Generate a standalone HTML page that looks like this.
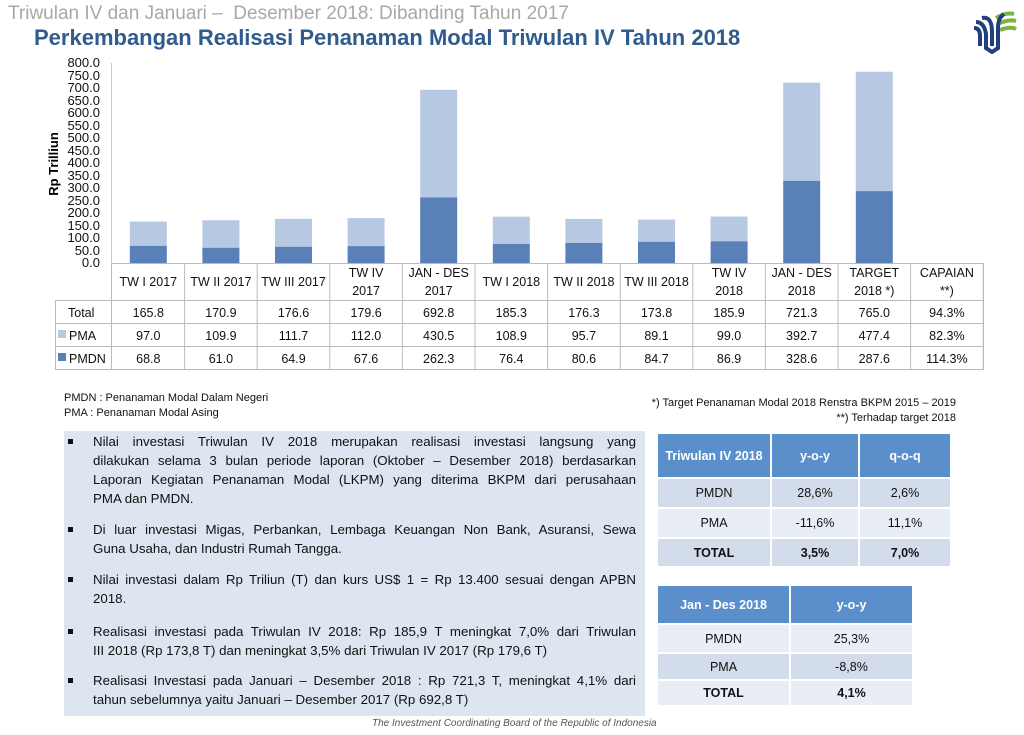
<!DOCTYPE html>
<html><head><meta charset="utf-8"><style>
body{margin:0;width:1024px;height:735px;background:#fff;position:relative;overflow:hidden;font-family:"Liberation Sans",sans-serif;}
.abs{position:absolute}
.box{left:64px;top:431px;width:581px;height:285px;background:#dde5f0}
.ln{position:absolute;left:93px;width:543px;font-size:13.3px;color:#111;white-space:nowrap}
.j{text-align:justify;text-align-last:justify;white-space:normal;height:19px;overflow:hidden}
.b{position:absolute;left:68px;width:5px;height:5px;background:#111}
table.t{position:absolute;border-collapse:collapse;font-size:12.5px;color:#111}
table.t td{text-align:center;border:2px solid #fff;padding:0}
table.t .h td{background:#5b8fcb;color:#fff;font-weight:bold}
</style></head><body>
<div class="abs" style="left:8px;top:3px;font-size:19px;color:#a8a8a8">Triwulan IV dan Januari –&nbsp; Desember 2018: Dibanding Tahun 2017</div>
<div class="abs" style="left:34px;top:25px;font-size:22px;font-weight:bold;color:#2f5b8d">Perkembangan Realisasi Penanaman Modal Triwulan IV Tahun 2018</div>
<svg class="abs" style="left:970px;top:8px" width="48" height="46" viewBox="0 0 48 46">
<path d="M26 10 Q36 4 44 6 M28 16 Q38 11 46 13 M30 22 Q40 18 46 21" stroke="#7cb342" stroke-width="4" fill="none"/>
<path d="M6 14 Q14 14 16 26 L16 40 L22 44 L28 40 L28 20 Q28 10 34 6 M12 10 Q22 8 22 24 L22 38 M4 20 Q10 20 10 28 L10 38" stroke="#1f3f7f" stroke-width="4" fill="none"/>
</svg>
<svg class="abs" style="left:0;top:0" width="1024" height="380" font-family="Liberation Sans, sans-serif">
<line x1="111.5" y1="63" x2="111.5" y2="263" stroke="#ccc"/>
<g id="bars"></g>
<g stroke="#bbb" fill="none">
<rect x="55.5" y="263.5" width="928" height="106"/>
<line x1="55" y1="300.5" x2="984" y2="300.5"/><line x1="55" y1="323.5" x2="984" y2="323.5"/><line x1="55" y1="346.5" x2="984" y2="346.5"/>
<path id="vl" d=""/>
</g>
<rect x="55" y="262" width="56" height="38" fill="#fff"/>
<line x1="55.5" y1="300" x2="55.5" y2="370" stroke="#bbb"/>
<line x1="111.5" y1="263" x2="111.5" y2="370" stroke="#bbb"/>
<g font-size="13" fill="#111" text-anchor="end">
<text x="100" y="67">800.0</text><text x="100" y="80">750.0</text><text x="100" y="92">700.0</text><text x="100" y="105">650.0</text><text x="100" y="117">600.0</text><text x="100" y="130">550.0</text><text x="100" y="142">500.0</text><text x="100" y="155">450.0</text><text x="100" y="167">400.0</text><text x="100" y="180">350.0</text><text x="100" y="192">300.0</text><text x="100" y="205">250.0</text><text x="100" y="217">200.0</text><text x="100" y="230">150.0</text><text x="100" y="242">100.0</text><text x="100" y="255">50.0</text><text x="100" y="267">0.0</text>
</g>
<text transform="translate(58,164) rotate(-90)" font-size="13" font-weight="bold" text-anchor="middle">Rp Trilliun</text>
<g font-size="12.5" fill="#111" text-anchor="middle" id="tx"></g>
<g font-size="12.5" fill="#111">
<text x="68" y="317">Total</text>
<rect x="58" y="330" width="8" height="8" fill="#b7c9e2"/><text x="69" y="340">PMA</text>
<rect x="58" y="353" width="8" height="8" fill="#5a80b8"/><text x="69" y="363">PMDN</text>
</g>
</svg>
<div class="abs" style="left:64px;top:391px;font-size:11px;color:#111;line-height:15px">PMDN : Penanaman Modal Dalam Negeri<br>PMA : Penanaman Modal Asing</div>
<div class="abs" style="right:68px;top:396px;font-size:11px;color:#111;line-height:15px;text-align:right">*) Target Penanaman Modal 2018 Renstra BKPM 2015 – 2019<br>**) Terhadap target 2018</div>
<div class="abs box"></div>
<div class="b" style="top:439px"></div>
<div class="ln j" style="top:434px">Nilai investasi Triwulan IV 2018 merupakan realisasi investasi langsung yang</div>
<div class="ln j" style="top:453px">dilakukan selama 3 bulan periode laporan (Oktober – Desember 2018) berdasarkan</div>
<div class="ln j" style="top:472px">Laporan Kegiatan Penanaman Modal (LKPM) yang diterima BKPM dari perusahaan</div>
<div class="ln" style="top:491px">PMA dan PMDN.</div>
<div class="b" style="top:527px"></div>
<div class="ln j" style="top:522px">Di luar investasi Migas, Perbankan, Lembaga Keuangan Non Bank, Asuransi, Sewa</div>
<div class="ln" style="top:541px">Guna Usaha, dan Industri Rumah Tangga.</div>
<div class="b" style="top:577px"></div>
<div class="ln j" style="top:572px">Nilai investasi dalam Rp Triliun (T) dan kurs US$ 1 = Rp 13.400 sesuai dengan APBN</div>
<div class="ln" style="top:591px">2018.</div>
<div class="b" style="top:629px"></div>
<div class="ln j" style="top:624px">Realisasi investasi pada Triwulan IV 2018: Rp 185,9 T meningkat 7,0% dari Triwulan</div>
<div class="ln" style="top:643px">III 2018 (Rp 173,8 T) dan meningkat 3,5% dari Triwulan IV 2017 (Rp 179,6 T)</div>
<div class="b" style="top:678px"></div>
<div class="ln j" style="top:673px">Realisasi Investasi pada Januari – Desember 2018 : Rp 721,3 T, meningkat 4,1% dari</div>
<div class="ln" style="top:692px">tahun sebelumnya yaitu Januari – Desember 2017 (Rp 692,8 T)</div>
<div class="abs" style="left:372px;top:718px;font-size:10px;font-style:italic;color:#555">The Investment Coordinating Board of the Republic of Indonesia</div>

<table class="t" style="left:656px;top:432px;width:296px">
<tr class="h" style="height:45px"><td style="width:112px">Triwulan IV 2018</td><td style="width:86px">y-o-y</td><td>q-o-q</td></tr>
<tr style="height:30px;background:#d2dcea"><td>PMDN</td><td>28,6%</td><td>2,6%</td></tr>
<tr style="height:30px;background:#e9eef6"><td>PMA</td><td>-11,6%</td><td>11,1%</td></tr>
<tr style="height:29px;background:#d2dcea;font-weight:bold"><td>TOTAL</td><td>3,5%</td><td>7,0%</td></tr>
</table>
<table class="t" style="left:656px;top:584px;width:258px">
<tr class="h" style="height:39px"><td style="width:131px">Jan - Des 2018</td><td>y-o-y</td></tr>
<tr style="height:29px;background:#e9eef6"><td>PMDN</td><td>25,3%</td></tr>
<tr style="height:27px;background:#d2dcea"><td>PMA</td><td>-8,8%</td></tr>
<tr style="height:26px;background:#e9eef6;font-weight:bold"><td>TOTAL</td><td>4,1%</td></tr>
</table>
<script>
var d=[[165.8,97.0,68.8,"TW I 2017"],[170.9,109.9,61.0,"TW II 2017"],[176.6,111.7,64.9,"TW III 2017"],[179.6,112.0,67.6,"TW IV|2017"],[692.8,430.5,262.3,"JAN - DES|2017"],[185.3,108.9,76.4,"TW I 2018"],[176.3,95.7,80.6,"TW II 2018"],[173.8,89.1,84.7,"TW III 2018"],[185.9,99.0,86.9,"TW IV|2018"],[721.3,392.7,328.6,"JAN - DES|2018"],[765.0,477.4,287.6,"TARGET|2018 *)"],["94.3%","82.3%","114.3%","CAPAIAN|**)"]];
var ns="http://www.w3.org/2000/svg",b=document.getElementById("bars"),tx=document.getElementById("tx"),vp="";
function el(p,t,a,s){var e=document.createElementNS(ns,t);for(var k in a)e.setAttribute(k,a[k]);if(s!=null)e.textContent=s;p.appendChild(e);return e}
var w=72.6;
d.forEach(function(r,i){var x0=112+w*i,c=x0+w/2;vp+="M"+(x0+w).toFixed(1)+" 263V370";
if(typeof r[0]=="number"){var hd=r[2]*0.25,ht=r[0]*0.25;
el(b,"rect",{x:c-18.5,y:263-ht,width:37,height:ht-hd,fill:"#b7c9e2"});
el(b,"rect",{x:c-18.5,y:263-hd,width:37,height:hd,fill:"#5a80b8"});}
var L=r[3].split("|");if(L.length==1)el(tx,"text",{x:c,y:286},L[0]);else{el(tx,"text",{x:c,y:277},L[0]);el(tx,"text",{x:c,y:295},L[1]);}
[0,1,2].forEach(function(k){var v=r[k];el(tx,"text",{x:c,y:317+23*k},typeof v=="number"?v.toFixed(1):v);});});
document.getElementById("vl").setAttribute("d",vp);
</script>
</body></html>
